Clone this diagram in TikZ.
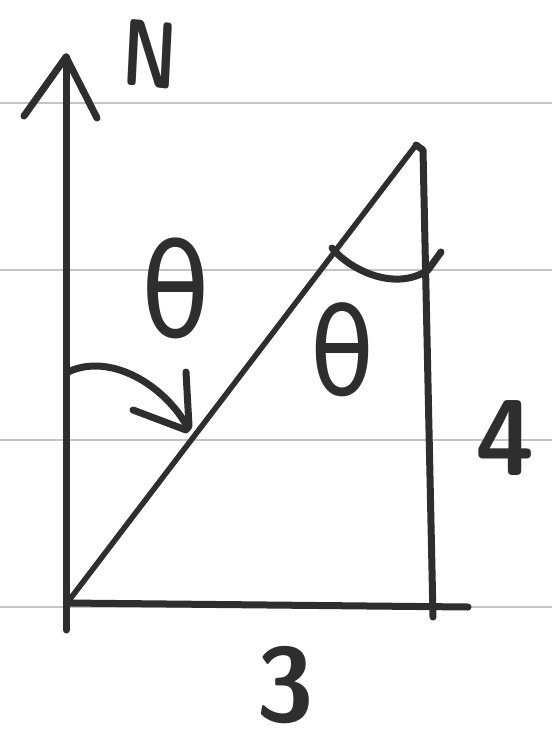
\documentclass[tikz,border=0pt]{standalone}
\usepackage{fontspec}
\newfontfamily\thetafont{DejaVu Sans}
\begin{document}
\begin{tikzpicture}[x=1pt,y=-1pt,
  pen/.style={line width=7pt,draw=ink,line cap=round,line join=round},
  rule/.style={line width=1.8pt,draw=rulegray},
  lbl/.style={text=ink,inner sep=0pt,anchor=center}]
\definecolor{ink}{HTML}{2E2E2E}
\definecolor{rulegray}{HTML}{C4C4C4}
\useasboundingbox[fill=white] (0,0) rectangle (552,742);
% ruled paper
\foreach \yy in {103,270,440,607} \draw[rule] (0,\yy) -- (552,\yy);
% key points
\coordinate (O) at (67,603);
\coordinate (Ntop) at (66,57);
\coordinate (Nbot) at (66,630);
\coordinate (B) at (468,607);
\coordinate (T) at (416,145);
\coordinate (Rt) at (423,150);
\coordinate (R) at (433,617);
% north axis with arrow strokes
\draw[pen] (Nbot) -- (Ntop);
\draw[pen] (Ntop) -- (24,116);
\draw[pen] (Ntop) -- (97,118);
% base and right side
\draw[pen] (O) -- (B);
\draw[pen] (T) -- (Rt) -- (R);
% hypotenuse
\draw[pen,line width=5.5pt] (O) -- (T);
% bearing arc with arrow
\draw[pen] (68,372) .. controls (110,352) and (165,385) .. (188,428);
\draw[pen] (186,372) -- (189,426);
\draw[pen] (133,410) -- (186,430);
% angle arc at top
\draw[pen] (332,248) .. controls (350,270) and (395,292) .. (428,270) -- (441,252);
% labels
\node[lbl,font=\fontsize{100}{104}\selectfont\sffamily\bfseries,xscale=0.68,yscale=0.95,rotate=-4] (n) at (150,54) {N};
\node[lbl,font=\fontsize{118}{120}\selectfont\thetafont,xscale=0.95,yscale=1.1] (t1) at (176,288) {θ};
\node[lbl,font=\fontsize{110}{114}\selectfont\thetafont,xscale=0.95,yscale=1.1] (t2) at (342,350) {θ};
\node[lbl,font=\fontsize{108}{112}\selectfont\sffamily\bfseries] (four) at (505,438) {4};
\node[lbl,font=\fontsize{105}{110}\selectfont\sffamily\bfseries] (three) at (285,685) {3};
\end{tikzpicture}
\end{document}
